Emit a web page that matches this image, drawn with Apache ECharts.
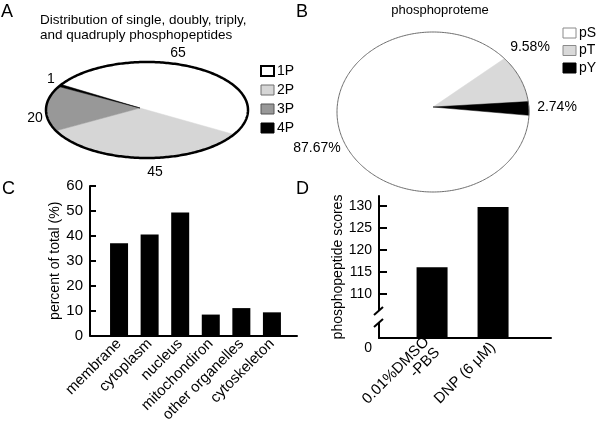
<!DOCTYPE html>
<html>
<head>
<meta charset="utf-8">
<script src="https://cdn.jsdelivr.net/npm/echarts@6/dist/echarts.min.js"></script>
<style>
  html, body { margin: 0; padding: 0; background: #fff; }
  #main { width: 600px; height: 425px; }
</style>
</head>
<body>
<div id="main"></div>
<script>
// A: number of phosphate groups per peptide
const peptideCats = ['1P', '2P', '3P', '4P'];
const peptideCounts = [65, 45, 20, 1];
// B: phosphorylated residue share (%)
const residueCats = ['pS', 'pT', 'pY'];
const residuePercents = [87.67, 9.58, 2.74];
// C: subcellular location (% of total)
const locationCats = ['membrane', 'cytoplasm', 'nucleus', 'mitochondiron', 'other organelles', 'cytoskeleton'];
const locationPercents = [37, 40.5, 49.4, 8.4, 11, 9.3];
// D: phosphopeptide scores
const treatmentCats = ['0.01%DMSO\n-PBS', 'DNP (6 μM)'];
const treatmentScores = [116.1, 129.8];
const scoreTicks = [110, 115, 120, 125, 130];

const FONT = '"Liberation Sans", Arial, sans-serif';

// slice colours
const peptideColors = ['#ffffff', '#d6d6d6', '#989898', '#000000'];
const residueColors = ['#ffffff', '#d9d9d9', '#000000'];

// ellipse pies: centre, radii, apex of the slices, start angle (deg, clockwise)
const pieA = { cx: 147, cy: 110, rx: 101, ry: 48, ax: 140, ay: 108, start: 212,
  outline: '#000', outlineWidth: 2.5,
  labelPos: [[178, 53], [155, 172], [35, 118], [51, 79]] };
const pieB = { cx: 433, cy: 112, rx: 96, ry: 80, ax: 433, ay: 107, start: 2.4,
  outline: '#6e6e6e', outlineWidth: 1,
  labelPos: [[317, 148], [530, 47], [557, 107]] };

function ellipsePoints(p, a0, a1) {
  const pts = [];
  const steps = Math.max(2, Math.ceil(Math.abs(a1 - a0)));
  for (let s = 0; s <= steps; s++) {
    const t = (a0 + (a1 - a0) * s / steps) * Math.PI / 180;
    pts.push([p.cx + p.rx * Math.cos(t), p.cy + p.ry * Math.sin(t)]);
  }
  return pts;
}

function pieRenderer(p, values, colors, fmt) {
  const total = values.reduce((a, b) => a + b, 0);
  return function (params, api) {
    const i = params.dataIndex;
    let before = 0;
    for (let k = 0; k < i; k++) before += values[k];
    const a0 = p.start + before / total * 360;
    const a1 = a0 + api.value(0) / total * 360;
    const children = [{
      type: 'polygon',
      shape: { points: [[p.ax, p.ay]].concat(ellipsePoints(p, a0, a1)) },
      style: { fill: colors[i], stroke: colors[i], lineWidth: 0.5 }
    }];
    if (i === values.length - 1) {
      // outline + value labels once all slices are down
      children.push({
        type: 'polygon',
        shape: { points: ellipsePoints(p, 0, 360) },
        style: { fill: 'none', stroke: p.outline, lineWidth: p.outlineWidth }
      });
      values.forEach((v, k) => {
        children.push({
          type: 'text', x: p.labelPos[k][0], y: p.labelPos[k][1],
          style: { text: fmt(v), fill: '#000', font: '14px ' + FONT, align: 'center', verticalAlign: 'middle' }
        });
      });
    }
    return { type: 'group', children: children };
  };
}

function legendGraphics(cats, colors, borders, widths, x, y, step) {
  const out = [];
  cats.forEach((c, i) => {
    out.push({ type: 'rect', shape: { x: x, y: y + i * step, width: 13, height: 10 },
      style: { fill: colors[i], stroke: borders[i], lineWidth: widths[i] } });
    out.push({ type: 'text', x: x + 16, y: y + i * step + 5,
      style: { text: c, fill: '#000', font: '14px ' + FONT, verticalAlign: 'middle' } });
  });
  return out;
}

function letter(t, x, y) {
  return { type: 'text', x: x, y: y, style: { text: t, fill: '#000', font: '18px ' + FONT } };
}

let chart = echarts.init(document.getElementById('main'));

const axisLineStyle = { color: '#000', width: 2 };

chart.setOption({
  animation: false,
  backgroundColor: '#fff',
  grid: [
    { left: 90, top: 186, width: 207, height: 154 },
    { left: 379, top: 196, width: 172, height: 142 }
  ],
  xAxis: [
    {
      gridIndex: 0, type: 'value', min: -0.95, max: 5.82,
      axisLine: { show: true, lineStyle: axisLineStyle },
      axisTick: { show: false },
      splitLine: { show: false },
      axisLabel: {
        customValues: locationCats.map((c, i) => i),
        formatter: v => locationCats[v] || '',
        rotate: 45, margin: 6, color: '#000', fontSize: 15, fontFamily: FONT
      }
    },
    {
      gridIndex: 1, type: 'value', min: -0.87, max: 1.95,
      axisLine: { show: true, onZero: false, lineStyle: axisLineStyle },
      axisTick: { show: false },
      splitLine: { show: false },
      axisLabel: {
        customValues: treatmentCats.map((c, i) => i),
        formatter: v => treatmentCats[v] || '',
        rotate: 45, margin: 7, color: '#000', fontSize: 15, fontFamily: FONT
      }
    }
  ],
  yAxis: [
    {
      gridIndex: 0, type: 'value', min: 0, max: 60, interval: 10,
      name: 'percent of total (%)', nameLocation: 'middle', nameGap: 28,
      nameTextStyle: { color: '#000', fontSize: 14, fontFamily: FONT },
      axisLine: { show: true, onZero: false, lineStyle: axisLineStyle },
      axisTick: { show: true, inside: true, length: 6, lineStyle: axisLineStyle },
      splitLine: { show: false },
      axisLabel: { color: '#000', fontSize: 15, fontFamily: FONT, margin: 7 }
    },
    {
      gridIndex: 1, type: 'value', min: 100, max: 132.3,
      name: 'phosphopeptide scores', nameLocation: 'middle', nameGap: 27,
      nameTextStyle: { color: '#000', fontSize: 14, fontFamily: FONT },
      axisLine: { show: true, onZero: false, lineStyle: axisLineStyle },
      axisTick: { show: true, inside: true, length: 8, customValues: scoreTicks, lineStyle: axisLineStyle },
      splitLine: { show: false },
      axisLabel: {
        customValues: [100].concat(scoreTicks),
        formatter: v => (v === 100 ? '{z|0}' : String(v)),
        rich: { z: { padding: [20, 0, 0, 0], fontSize: 14, fontFamily: FONT, color: '#000' } },
        color: '#000', fontSize: 14, fontFamily: FONT, margin: 7
      }
    }
  ],
  series: [
    {
      type: 'custom', coordinateSystem: 'none',
      data: peptideCounts.map(v => [v]),
      renderItem: pieRenderer(pieA, peptideCounts, peptideColors, v => String(v))
    },
    {
      type: 'custom', coordinateSystem: 'none',
      data: residuePercents.map(v => [v]),
      renderItem: pieRenderer(pieB, residuePercents, residueColors, v => v.toFixed(2) + '%')
    },
    {
      type: 'bar', xAxisIndex: 0, yAxisIndex: 0, barWidth: 18,
      data: locationPercents.map((v, i) => [i, v]),
      itemStyle: { color: '#000' }
    },
    {
      type: 'bar', xAxisIndex: 1, yAxisIndex: 1, barWidth: 31,
      data: treatmentScores.map((v, i) => [i, v]),
      itemStyle: { color: '#000' }
    }
  ]
});

// break marks on the score axis, placed through the axis scale
const bx = chart.convertToPixel({ xAxisIndex: 1 }, -0.87);
const by = chart.convertToPixel({ yAxisIndex: 1 }, 104.8);

chart.setOption({
  graphic: [
    letter('A', 1, 3), letter('B', 296, 3), letter('C', 2, 180), letter('D', 296, 180),
    { type: 'text', x: 40, y: 13, style: { text: 'Distribution of single, doubly, triply,\nand quadruply phosphopeptides',
      fill: '#000', font: '13.5px ' + FONT, lineHeight: 15 } },
    { type: 'text', x: 440, y: 10, style: { text: 'phosphoproteme', fill: '#000', font: '13px ' + FONT,
      align: 'center', verticalAlign: 'middle' } },
    { type: 'rect', shape: { x: bx - 3, y: by - 6, width: 6, height: 12 }, style: { fill: '#fff' }, z: 10 },
    { type: 'line', shape: { x1: bx - 5, y1: by - 2, x2: bx + 4, y2: by - 10 }, style: { stroke: '#000', lineWidth: 2 }, z: 11 },
    { type: 'line', shape: { x1: bx - 5, y1: by + 10, x2: bx + 4, y2: by + 2 }, style: { stroke: '#000', lineWidth: 2 }, z: 11 }
  ]
    .concat(legendGraphics(peptideCats, peptideColors, ['#000', '#6e6e6e', '#555', '#000'], [2, 1, 1, 1], 261, 66, 19))
    .concat(legendGraphics(residueCats, residueColors, ['#8a8a8a', '#8a8a8a', '#000'], [1, 1, 1], 563, 28, 17.5))
});

window.onresize = function () {
  chart.resize();
};
</script>
</body>
</html>
